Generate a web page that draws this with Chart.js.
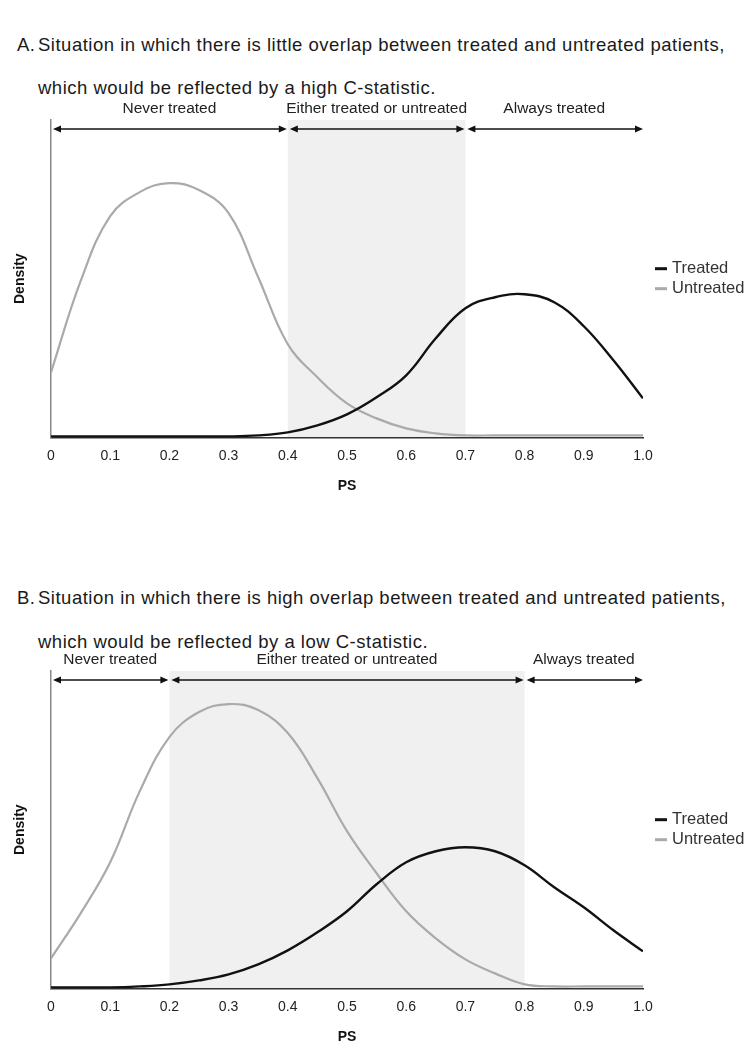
<!DOCTYPE html>
<html><head><meta charset="utf-8">
<script src="https://cdn.jsdelivr.net/npm/chart.js@4.4.1/dist/chart.umd.min.js"></script>
<style>
html,body{margin:0;padding:0;background:#fff;width:753px;height:1049px;overflow:hidden;font-family:"Liberation Sans",Arial,sans-serif;}
.t{position:absolute;font-size:18.5px;letter-spacing:0.5px;line-height:22px;color:#1a1a1a;white-space:nowrap;}
canvas{position:absolute;left:0;}
</style></head><body>
<div id="titles"></div>
<canvas id="cA" width="753" height="404" style="top:95px;width:753px;height:404px"></canvas>
<canvas id="cB" width="753" height="404" style="top:646px;width:753px;height:404px"></canvas>
<script>
// ---------- data ----------
const psValues = [0,0.05,0.1,0.15,0.2,0.25,0.3,0.35,0.4,0.45,0.5,0.55,0.6,0.65,0.7,0.75,0.8,0.85,0.9,0.95,1.0];
const treatedA   = [0.01,0.01,0.01,0.01,0.01,0.01,0.01,0.02,0.05,0.12,0.23,0.40,0.62,0.99,1.29,1.40,1.43,1.35,1.11,0.77,0.39];
const untreatedA = [0.65,1.56,2.21,2.45,2.54,2.47,2.24,1.60,0.93,0.60,0.34,0.19,0.09,0.04,0.02,0.02,0.02,0.02,0.02,0.02,0.02];
const treatedB   = [0.01,0.01,0.01,0.02,0.04,0.08,0.14,0.24,0.38,0.56,0.77,1.04,1.26,1.37,1.41,1.37,1.23,1.01,0.81,0.58,0.37];
const untreatedB = [0.30,0.75,1.26,1.97,2.51,2.76,2.84,2.78,2.55,2.10,1.57,1.15,0.77,0.50,0.29,0.15,0.04,0.02,0.02,0.02,0.02];
const xTickLabels = ['0','0.1','0.2','0.3','0.4','0.5','0.6','0.7','0.8','0.9','1.0'];
const seriesNames = ['Treated','Untreated'];
const regionLabels = ['Never treated','Either treated or untreated','Always treated'];
const regionBoundsA = [0,0.4,0.7,1.0];
const regionBoundsB = [0,0.2,0.8,1.0];
const titleA = ['A.','Situation in which there is little overlap between treated and untreated patients,','which would be reflected by a high C-statistic.'];
const titleB = ['B.','Situation in which there is high overlap between treated and untreated patients,','which would be reflected by a low C-statistic.'];

// ---------- titles ----------
function addTitle(lines, top1, top2){
  const c = document.getElementById('titles');
  const mk = (txt, left, top) => { const d=document.createElement('div'); d.className='t'; d.style.left=left+'px'; d.style.top=top+'px'; d.textContent=txt; c.appendChild(d); };
  mk(lines[0], 17, top1); mk(lines[1], 38, top1); mk(lines[2], 38, top2);
}
addTitle(titleA, 34, 77);
addTitle(titleB, 587, 631);

const FONT = '"Liberation Sans", Arial, sans-serif';

// ---------- plugin: shaded band, arrows, region labels, legend ----------
const regionPlugin = {
  id: 'regions',
  beforeDraw(chart, args, opts){
    const {ctx, chartArea, scales:{x}} = chart;
    const b = opts.bounds;
    const x1 = x.getPixelForValue(b[1]), x2 = x.getPixelForValue(b[2]);
    ctx.save();
    ctx.fillStyle = '#f0f0f0';
    ctx.fillRect(x1, chartArea.top, x2-x1, chartArea.bottom-chartArea.top);
    ctx.restore();
  },
  afterDraw(chart, args, opts){
    const {ctx, chartArea, scales:{x}} = chart;
    const b = opts.bounds;
    const yA = chartArea.top + 9, yL = chartArea.top - 11;
    ctx.save();
    ctx.strokeStyle = '#111'; ctx.fillStyle = '#111'; ctx.lineWidth = 1.5;
    const head = (tx, dir) => { ctx.beginPath(); ctx.moveTo(tx, yA); ctx.lineTo(tx - dir*8, yA-3.5); ctx.lineTo(tx - dir*8, yA+3.5); ctx.closePath(); ctx.fill(); };
    for (let i=0;i<b.length-1;i++){
      const xs = x.getPixelForValue(b[i]) + 2;
      const xe = x.getPixelForValue(b[i+1]) - (i===b.length-2 ? 0 : 1);
      ctx.fillStyle = '#111';
      ctx.beginPath(); ctx.moveTo(xs+4, yA); ctx.lineTo(xe-4, yA); ctx.stroke();
      head(xs, -1); head(xe, 1);
      ctx.font = '15.5px ' + FONT;
      ctx.fillStyle = '#222'; ctx.textAlign = 'center'; ctx.textBaseline = 'middle';
      ctx.fillText(opts.labels[i], (x.getPixelForValue(b[i])+x.getPixelForValue(b[i+1]))/2, yL);
    }
    // legend
    const ds = chart.data.datasets;
    const cy = (chartArea.top + chartArea.bottom)/2;
    const lx = chartArea.right + 12;
    ctx.font = '16.5px ' + FONT; ctx.textAlign = 'left'; ctx.textBaseline = 'middle';
    ds.forEach((d, i) => {
      const y = cy + (i - (ds.length-1)/2) * 20;
      ctx.fillStyle = d.borderColor;
      ctx.fillRect(lx, y - 1.5, 12, 3);
      ctx.fillStyle = '#333';
      ctx.fillText(d.label, lx + 17, y);
    });
    ctx.restore();
  }
};

function makeChart(id, treated, untreated, bounds){
  const colors = ['#111111','#aaaaaa'];
  return new Chart(document.getElementById(id), {
    type: 'line',
    data: {
      datasets: [
        {label: seriesNames[0], data: psValues.map((p,i)=>({x:p,y:treated[i]})), borderColor: colors[0], backgroundColor: colors[0], borderWidth: 2.4, pointRadius: 0, tension: 0.4, fill:false},
        {label: seriesNames[1], data: psValues.map((p,i)=>({x:p,y:untreated[i]})), borderColor: colors[1], backgroundColor: colors[1], borderWidth: 2.2, pointRadius: 0, tension: 0.4, fill:false}
      ]
    },
    options: {
      responsive: false, animation: false, devicePixelRatio: 1,
      layout: {padding: {left: 0, top: 25, right: 110, bottom: 0}},
      plugins: {
        tooltip: {enabled: false},
        legend: {display: false},
        regions: {bounds: bounds, labels: regionLabels}
      },
      scales: {
        x: {
          type: 'linear', min: 0, max: 1,
          grid: {display: false, drawTicks: false},
          border: {display: true, color: '#333', width: 1.5},
          ticks: {stepSize: 0.1, padding: 10, color: '#222', maxRotation: 0, autoSkip: false,
                  font: {size: 14, family: FONT},
                  callback: (v, i) => xTickLabels[i]},
          title: {display: true, text: 'PS', color: '#111', padding: {top: 4, bottom: 4},
                  font: {size: 14, weight: 'bold', family: FONT}}
        },
        y: {
          min: 0, max: 3.17,
          grid: {display: false, drawTicks: false},
          border: {display: true, color: '#888', width: 1.5},
          ticks: {display: false},
          title: {display: true, text: 'Density', color: '#111', padding: {top: 11.6, bottom: 22.6},
                  font: {size: 14, weight: 'bold', family: FONT}}
        }
      }
    },
    plugins: [regionPlugin]
  });
}
makeChart('cA', treatedA, untreatedA, regionBoundsA);
makeChart('cB', treatedB, untreatedB, regionBoundsB);
</script>
</body></html>
